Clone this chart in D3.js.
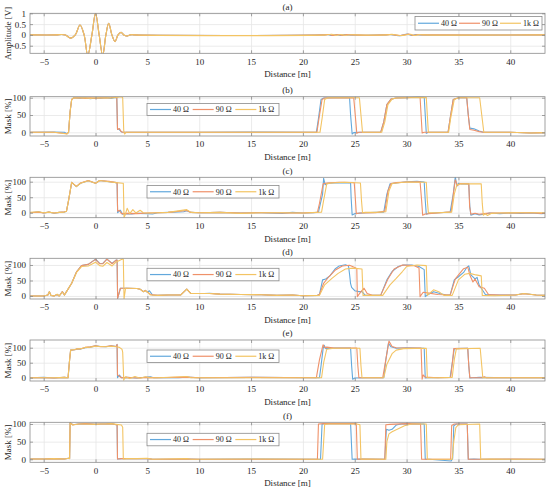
<!DOCTYPE html>
<html><head><meta charset="utf-8">
<script src="https://cdn.jsdelivr.net/npm/d3@7"></script>
<style>body{margin:0;background:#fff}</style>
</head><body><svg id="c" width="550" height="490"></svg>
<script>
// ---------- data ----------
const xTicks=[-5,0,5,10,15,20,25,30,35,40];
const seriesNames=["40 Ω","90 Ω","1k Ω"];
const panelLabels=["(a)","(b)","(c)","(d)","(e)","(f)"];
const yTitles=["Amplitude [V]","Mask [%]","Mask [%]","Mask [%]","Mask [%]","Mask [%]"];
const ampTicks=[-0.5,0,0.5,1];
const maskTicks=[0,50,100];

// (a) incident pulse (same for every load) and reflections
const aPulse=[[-6.3,0],[-3.8,0],[-3.3,0.02],[-2.9,0],[-2.4,-0.15],[-1.95,0],[-1.5,0.46],[-1.1,0],[-0.75,-0.95],[-0.35,0],[0,1],[0.35,0],[0.69,-0.95],[1.0,0],[1.27,0.54],[1.58,0],[1.88,-0.31],[2.17,0],[2.46,0.12],[2.73,0],[3.0,-0.05],[3.3,0],[3.5,0.015],[3.8,0]];
const a40Echo=[[21.9,0],[22.4,0.02],[22.8,-0.03],[23.2,0.02],[23.6,-0.02],[24.0,0.015],[24.4,0],[27.8,0],[28.4,0.02],[28.9,-0.01],[29.3,-0.04],[29.7,0.01],[30.1,0.04],[30.5,-0.02],[30.9,0.015],[31.4,0],[43.4,0]];
const a90Echo=[[22.0,0],[22.5,0.02],[22.9,-0.03],[23.3,0.02],[23.8,-0.02],[24.2,0.015],[24.7,0],[27.9,0],[28.5,0.02],[29.0,-0.01],[29.4,-0.03],[29.8,0.01],[30.2,0.035],[30.6,-0.02],[31.0,0.01],[31.5,0],[43.4,0]];
const a1kEcho=[[22.2,0],[22.8,0.03],[23.2,-0.02],[23.6,0.02],[24.1,-0.015],[24.6,0.01],[25.0,0],[28.0,0],[28.6,0.025],[29.1,-0.01],[29.6,-0.03],[30.0,0.01],[30.4,0.03],[30.8,-0.03],[31.2,0.015],[31.7,0],[43.4,0]];

// (b)
const b40=[[-6.3,0],[-4,0.5],[-3,0],[-2.75,-4],[-2.6,0],[-2.45,60],[-2.3,95],[-2.1,100],[-1.5,98],[-1,100],[-0.5,97],[0,99],[0.5,98],[1,100],[1.5,98],[1.9,101],[2.05,100],[2.12,10],[2.3,8],[2.5,1],[3,0],[6,0],[10,0],[15,0.5],[21.3,0],[21.5,40],[21.75,95],[22,99],[23,100],[24.5,100],[24.6,50],[24.75,-5],[24.9,-1],[25.5,0],[27.5,0],[27.8,30],[28.1,80],[28.5,96],[29,99],[30,100],[31,103],[31.7,102],[31.8,50],[31.9,-3],[32.1,0],[34,0],[34.2,40],[34.5,95],[35,100],[35.8,100],[35.95,50],[36.1,12],[36.5,10],[37,4],[37.4,0],[40,0],[42,-2],[43.4,-1]];
const b90=[[-6.3,0],[-4,0],[-2.75,-4],[-2.6,0],[-2.45,60],[-2.3,95],[-2.1,99],[-1.5,100],[-1,98],[-0.5,100],[0,98],[0.5,100],[1,99],[1.5,100],[1.9,102],[2.05,100],[2.12,8],[2.3,11],[2.45,3],[2.6,0],[3,0],[21.35,0],[21.55,40],[21.85,95],[22.1,99],[24.9,100],[25.05,50],[25.2,-3],[25.4,0],[27.5,0],[27.8,30],[28.1,80],[28.5,96],[29,99],[30,100],[31.3,102],[31.4,50],[31.5,-2],[31.7,0],[34,0],[34.2,40],[34.5,95],[35,100],[35.8,100],[35.95,50],[36.1,8],[36.5,6],[37,2],[37.4,0],[40,0],[42,-2],[43.4,-1]];
const b1k=[[-6.3,0],[-4,0],[-2.75,-5],[-2.6,0],[-2.45,60],[-2.3,95],[-2.1,100],[-1.5,99],[-1,100],[-0.5,98],[0,100],[0.5,99],[1,100],[1.5,99],[2,101],[2.5,103],[2.62,100],[2.72,5],[2.8,-5],[2.95,0],[5,0],[21.65,0],[21.85,40],[22.1,95],[22.4,100],[25.45,100],[25.6,50],[25.75,0],[27.6,0],[27.9,30],[28.2,80],[28.6,96],[29,99],[30,100],[31.9,101],[32.0,50],[32.1,0],[34.05,0],[34.25,40],[34.6,95],[35,100],[37.05,100],[37.25,50],[37.45,0],[40,0],[42,-2],[43.4,-1]];

// (c)
const c40=[[-6.3,0],[-5.5,3],[-5,-1],[-4.5,2],[-4,-2],[-3.5,1],[-3,2],[-2.8,5],[-2.6,40],[-2.3,98],[-1.85,84],[-1.45,95],[-0.7,103],[0,95],[0.4,104],[1.3,100],[2.0,97],[2.08,97],[2.13,0],[2.4,8],[2.6,-5],[3,-3],[3.5,-4],[4,-2],[5,-3],[5.5,-4],[6,0],[7,1],[8.5,3],[8.8,6],[9.2,1],[10,0],[12,1],[14,-1],[16,0],[18,-2],[19,1],[20,-1],[21,0],[21.5,2],[21.9,60],[22.0,111],[22.15,90],[22.4,95],[23.5,97],[24.6,96],[24.65,50],[24.75,-7],[25,-3],[26,0],[27,1],[27.8,2],[28.1,60],[28.4,93],[29,96],[30,100],[31,101],[31.7,99],[31.8,40],[31.9,-5],[32.2,-2],[33,0],[34.2,2],[34.5,60],[34.7,116],[34.85,85],[35.0,95],[35.3,93],[36.0,93],[36.1,20],[36.2,-8],[36.6,-3],[37,-7],[37.5,-5],[38,-1],[39,-3],[40,-1],[41,-2],[42,-1],[43,-3],[43.4,-2]];
const c90=[[-6.3,0],[-5.5,2],[-5,-1],[-4.5,2],[-4,-1],[-3.5,1],[-3,3],[-2.8,5],[-2.6,40],[-2.3,98],[-1.85,85],[-1.45,96],[-0.7,104],[0,95],[0.4,104],[1.3,101],[2.0,97],[2.08,97],[2.13,5],[2.3,8],[2.5,-3],[3,-2],[4,-3],[5,-1],[6,0],[7,1],[8.8,7],[9.2,1],[10,0],[12,1],[14,-1],[16,0],[18,-1],[20,-1],[21.4,1],[21.6,30],[21.95,93],[22.3,96],[23.5,98],[24.95,97],[25.05,50],[25.15,-3],[25.5,-1],[27,0],[27.9,5],[28.2,70],[28.5,94],[29,97],[30,99],[31.3,100],[31.45,40],[31.55,-8],[31.8,-4],[33,-1],[34.3,3],[34.55,70],[34.7,106],[34.9,88],[35.2,94],[36.0,93],[36.08,20],[36.2,-5],[36.6,-2],[37,-5],[37.5,-3],[38,-1],[40,-1],[42,0],[43,-2],[43.4,-2]];
const c1k=[[-6.3,1],[-5.5,3],[-5,0],[-4.5,2],[-4,-1],[-3.5,1],[-3,2],[-2.8,5],[-2.6,40],[-2.3,98],[-1.85,84],[-1.45,95],[-0.7,103],[0,95],[0.4,104],[1.3,100],[2.0,97],[2.6,95],[2.68,95],[2.75,-15],[2.85,-8],[3.05,14],[3.3,-3],[3.6,10],[3.9,-1],[4.3,8],[4.6,0],[5,-1],[6,0],[7,1],[8.8,10],[9.2,1],[10,0],[12,1],[14,-2],[16,0],[18,0],[20,-1],[21.8,2],[22.0,40],[22.3,93],[22.7,96],[24,98],[25.55,96],[25.65,40],[25.75,0],[26,1],[27,1],[28.0,3],[28.3,70],[28.6,94],[30,99],[31.9,98],[32.0,40],[32.1,0],[33,0],[34.35,2],[34.6,60],[34.85,90],[35.2,93],[37.2,93],[37.3,30],[37.4,-8],[37.6,-3],[37.8,-9],[38.2,-2],[39,-1],[41,0],[43.4,0]];

// (d)
const d40=[[-6.3,0],[-5,0],[-4.6,3],[-4.45,14],[-4.3,2],[-4,0],[-3.7,5],[-3.5,0],[-3.2,14],[-3.0,3],[-2.8,14],[-2.3,41],[-1.83,78],[-1.35,98],[-0.7,102],[0,119],[0.4,105],[0.7,105],[1.1,119],[1.6,105],[2.0,116],[2.08,116],[2.13,-8],[2.4,25],[3.0,25],[4.0,24],[4.3,22],[4.6,14],[4.8,18],[5.0,12],[5.2,17],[5.5,3],[6,2],[7,3],[8.2,3],[8.8,22],[9.2,8],[9.6,8],[10.5,8],[11,9],[12,6],[14,5],[16,4],[17.5,2],[19,3],[20,1],[21.4,2],[21.6,5],[21.9,52],[22.2,55],[22.6,65],[23.1,87],[23.5,97],[24.1,101],[24.4,97],[24.5,70],[24.6,40],[24.7,28],[25.0,17],[25.4,14],[25.7,14],[26.0,3],[27.5,2],[28.1,52],[28.6,79],[29.2,95],[29.7,100],[30.5,100],[31.2,95],[31.7,85],[31.8,-2],[32.0,3],[32.6,14],[33.2,8],[33.8,3],[34.2,3],[34.6,52],[35.0,62],[35.5,76],[35.8,92],[36.0,97],[36.2,68],[36.6,55],[36.8,60],[37.0,35],[37.3,20],[37.6,5],[38.5,3],[40.5,3],[41.3,8],[42.5,3],[43.4,2]];
const d90=[[-6.3,0],[-5,0],[-4.6,3],[-4.45,14],[-4.3,2],[-4,0],[-3.7,5],[-3.5,0],[-3.2,14],[-3.0,3],[-2.8,14],[-2.3,41],[-1.83,78],[-1.35,98],[-0.7,102],[0,118],[0.4,104],[0.7,104],[1.1,119],[1.6,104],[2.0,116],[2.08,116],[2.13,-8],[2.4,25],[3.0,25],[4.0,24],[4.3,22],[4.6,14],[4.8,18],[5.0,13],[5.3,5],[6,2],[7,3],[8.2,3],[8.8,22],[9.2,8],[10,8],[11,8],[12,6],[14,5],[16,4],[17.5,2],[19,3],[20,1],[21.4,2],[21.6,5],[22.0,41],[22.5,62],[23.1,83],[23.8,97],[24.5,99],[25.0,92],[25.2,88],[25.25,-2],[25.6,14],[25.9,25],[26.2,8],[26.7,2],[27.5,2],[28.2,55],[28.8,87],[29.6,100],[30.7,98],[31.2,90],[31.3,-2],[31.4,3],[31.6,12],[32.0,10],[33,5],[34.2,3],[34.7,55],[35.5,88],[35.9,93],[36.1,68],[36.4,45],[36.6,55],[37.0,30],[37.5,25],[37.9,5],[39,3],[40.5,3],[41.3,7],[42.5,3],[43.4,2]];
const d1k=[[-6.3,0],[-5,0],[-4.6,3],[-4.45,14],[-4.3,2],[-4,0],[-3.7,6],[-3.5,0],[-3.2,13],[-3.0,3],[-2.8,14],[-2.3,41],[-1.83,76],[-1.35,95],[-0.7,97],[0,109],[0.4,98],[0.7,96],[1.1,108],[1.6,97],[2.0,110],[2.6,119],[2.68,119],[2.75,-9],[2.9,25],[3.2,25],[4.0,24],[4.3,22],[4.6,14],[4.8,17],[5.0,13],[5.3,3],[6,2],[7,3],[8.2,3],[8.8,22],[9.2,8],[10,8],[11,8],[12,6],[14,5],[16,4],[17.5,2],[19,3],[20,1],[21.6,2],[22.1,36],[22.8,57],[23.4,73],[24.1,87],[24.8,90],[25.7,87],[25.8,2],[26.5,2],[27.7,2],[28.4,36],[29.0,57],[29.6,79],[30.0,95],[31.0,100],[31.9,98],[32.0,2],[32.6,20],[33.1,14],[33.6,2],[34.4,2],[35.0,52],[35.6,70],[36.1,73],[36.7,68],[37.2,65],[37.3,2],[38.5,1],[40.5,3],[41.3,8],[42.5,3],[43.4,2]];

// (e)
const e40=[[-6.3,0],[-5,1],[-4,-1],[-3,1],[-2.65,0],[-2.5,60],[-2.4,92],[-2.0,93],[-1.8,96],[-1.5,95],[-1,100],[-0.5,102],[0,106],[0.5,104],[1,103],[1.5,106],[2.0,104],[2.08,111],[2.12,0],[2.3,9],[2.5,0],[3,1],[4,-1],[5,2],[5.3,3],[5.6,0],[8,0],[8.8,2],[10,0],[15,1],[21.6,0],[21.75,40],[21.95,97],[22.05,108],[22.2,97],[23,99],[24.6,99],[24.7,40],[24.8,-5],[25,-1],[26,0],[27.8,0],[28.0,60],[28.25,115],[28.5,103],[29,98],[30,100],[31.7,98],[31.8,-1],[32,0],[34.2,1],[34.45,60],[34.6,97],[35.9,98],[36.0,40],[36.1,-1],[36.4,0],[37,1],[40,0],[43.4,0]];
const e90=[[-6.3,0],[-5,0],[-4,-1],[-3,1],[-2.65,0],[-2.5,60],[-2.4,92],[-2.0,93],[-1.8,96],[-1.5,96],[-1,101],[-0.5,103],[0,106],[0.5,103],[1,104],[1.5,106],[2.0,104],[2.08,111],[2.12,9],[2.3,5],[2.5,0],[3,1],[4,-1],[5,1],[6,0],[8.8,2],[10,0],[15,1],[21.3,0],[21.6,60],[21.95,110],[22.1,100],[22.3,102],[23,99],[25.2,99],[25.3,40],[25.4,0],[26,0],[27.7,0],[28.0,60],[28.3,122],[28.6,104],[29,100],[31.4,99],[31.5,-5],[31.6,9],[31.8,2],[33,0],[34.25,1],[34.45,60],[34.55,97],[35.9,98],[36.0,40],[36.1,0],[37.3,0],[37.5,3],[37.7,0],[40,0],[43.4,0]];
const e1k=[[-6.3,0],[-5,0],[-4,0],[-3,1],[-2.65,0],[-2.5,60],[-2.4,92],[-2.0,94],[-1.8,96],[-1.5,96],[-1,101],[-0.5,102],[0,105],[0.5,104],[1,103],[1.5,105],[2.0,103],[2.3,101],[2.55,95],[2.62,85],[2.72,-8],[2.9,3],[3.3,-3],[3.8,4],[4.3,-2],[4.8,3],[5.2,0],[6,0],[8.8,4],[9.2,0],[15,0],[21.8,0],[22.0,50],[22.3,95],[23,98],[25.5,98],[25.6,40],[25.7,0],[27.8,0],[28.1,45],[28.6,80],[29.0,92],[29.7,97],[31.9,98],[32.0,0],[33,0],[34.4,1],[34.6,60],[34.8,96],[37.1,98],[37.25,40],[37.35,0],[38,0],[40,0],[43.4,0]];

// (f)
const f40=[[-6.3,1],[-5,1],[-4,2],[-3,1],[-2.6,3],[-2.5,2],[-2.45,104],[-2.2,98],[-1.6,100],[-1,101],[0,99],[0.5,100],[1,100],[1.5,101],[2.0,98],[2.08,98],[2.12,1],[2.5,2],[3,2],[4,2],[5,2],[5.5,0],[8,0],[8.8,1],[10,0],[15,1],[21.7,0],[21.85,100],[22.2,101],[24.6,101],[24.75,0],[25,1],[27.9,0],[28.05,85],[28.3,82],[28.6,85],[29.0,97],[29.5,100],[31.7,100],[31.8,0],[32.2,0],[34.3,-5],[34.45,3],[34.55,95],[34.8,100],[35.85,100],[35.95,0],[36.5,1],[37,0],[40,0],[43.4,0]];
const f90=[[-6.3,1],[-5,1],[-4,2],[-3,1],[-2.6,3],[-2.5,2],[-2.45,104],[-2.2,98],[-1.6,100],[-1,101],[0,99],[0.5,100],[1,100],[1.5,101],[2.0,98],[2.08,98],[2.12,1],[2.5,2],[3,2],[5,2],[5.5,0],[8.8,1],[10,0],[21.4,0],[21.5,100],[22,101],[25.15,101],[25.25,0],[25.5,1],[27.9,0],[28.0,98],[28.4,99],[30,101],[31.35,100],[31.45,0],[32,0],[34.25,0],[34.35,96],[34.6,100],[35.85,100],[35.95,0],[37,0],[40,1],[43.4,0]];
const f1k=[[-6.3,1],[-5,1],[-4,2],[-3,1],[-2.6,3],[-2.5,2],[-2.45,104],[-2.2,97],[-1.6,100],[-1,100],[0,99],[0.5,100],[1,100],[1.5,101],[2.0,99],[2.5,97],[2.62,91],[2.68,1],[3,2],[4,2],[5,3],[5.5,0],[8.8,2],[9.2,0],[15,1],[21.9,0],[22.1,99],[22.5,100],[25.2,100],[25.5,98],[25.6,0],[26,1],[28.0,0],[28.1,50],[28.3,72],[28.6,78],[29.1,85],[29.8,95],[30.5,100],[31.9,100],[32.0,0],[33,0],[34.4,0],[34.55,50],[34.75,90],[35.0,98],[37.05,100],[37.15,0],[38,1],[40,0],[43.4,0]];

// ---------- drawing ----------
const colors=["#62a8dc","#ef9169","#f3c463"];
const seriesData=[
  [aPulse.concat(a40Echo),aPulse.concat(a90Echo),aPulse.concat(a1kEcho)],
  [b40,b90,b1k],[c40,c90,c1k],[d40,d90,d1k],[e40,e90,e1k],[f40,f90,f1k]
];
const L=30,R=545;
const panels=[
  {top:13.3,bottom:53.3,yd:[-0.85,1],ticks:ampTicks,leg:[415,16.5,127,13.5],curve:d3.curveCatmullRom},
  {top:96.7,bottom:136,yd:[-10.7,102.9],ticks:maskTicks,leg:[147,103.5,132,12],curve:d3.curveLinear},
  {top:177.3,bottom:217.7,yd:[-16.1,114.2],ticks:maskTicks,leg:[147,185.5,132,12.5],curve:d3.curveLinear},
  {top:258.3,bottom:299,yd:[-9.7,121.6],ticks:maskTicks,leg:[147,268.3,132,12.5],curve:d3.curveLinear},
  {top:340,bottom:381,yd:[-11,125.7],ticks:maskTicks,leg:[147,350,132,12.5],curve:d3.curveLinear},
  {top:422.3,bottom:462.3,yd:[-8.5,104.8],ticks:maskTicks,leg:[147,433.3,132,12.5],curve:d3.curveLinear}
];
const svg=d3.select("#c");
const FONT="'Liberation Serif','Times New Roman',serif";
const x=d3.scaleLinear().domain([-6.32,43.35]).range([L,R]);
const axisCol="#8a8a8a", gridCol="#e6e6e6", textCol="#262626";

panels.forEach((p,i)=>{
  const y=d3.scaleLinear().domain(p.yd).range([p.bottom,p.top]);
  const g=svg.append("g");
  const h=p.bottom-p.top;
  // grid
  g.append("g").attr("transform",`translate(0,${p.top})`)
    .call(d3.axisBottom(x).tickValues(xTicks).tickSize(h).tickFormat(""))
    .call(s=>{s.select(".domain").remove();s.selectAll("line").attr("stroke",gridCol).attr("stroke-width",0.8);});
  g.append("g").attr("transform",`translate(${L},0)`)
    .call(d3.axisRight(y).tickValues(p.ticks).tickSize(R-L).tickFormat(""))
    .call(s=>{s.select(".domain").remove();s.selectAll("line").attr("stroke",gridCol).attr("stroke-width",0.8);});
  // clip
  const cid="clip"+i;
  svg.append("clipPath").attr("id",cid).append("rect").attr("x",L).attr("y",p.top).attr("width",R-L).attr("height",h);
  const line=d3.line().x(d=>x(d[0])).y(d=>y(d[1])).curve(p.curve);
  seriesData[i].forEach((ser,k)=>{
    g.append("path").attr("d",line(ser)).attr("fill","none").attr("stroke",colors[k])
      .attr("stroke-width",1.1).attr("clip-path",`url(#${cid})`).attr("stroke-linejoin","round");
  });
  // axes (ticks inward)
  const xb=g.append("g").attr("transform",`translate(0,${p.bottom})`)
    .call(d3.axisBottom(x).tickValues(xTicks).tickSize(-3).tickPadding(5).tickFormat(d=>d<0?"\u2212"+Math.abs(d):d));
  const xt=g.append("g").attr("transform",`translate(0,${p.top})`)
    .call(d3.axisTop(x).tickValues(xTicks).tickSize(-3).tickFormat(""));
  const yl=g.append("g").attr("transform",`translate(${L},0)`)
    .call(d3.axisLeft(y).tickValues(p.ticks).tickSize(-3).tickPadding(4).tickFormat(d=>d<0?"\u2212"+Math.abs(d):d));
  const yr=g.append("g").attr("transform",`translate(${R},0)`)
    .call(d3.axisRight(y).tickValues(p.ticks).tickSize(-3).tickFormat(""));
  [xb,xt,yl,yr].forEach(a=>{
    a.select(".domain").remove();
    a.selectAll("line").attr("stroke",axisCol).attr("stroke-width",0.8);
    a.selectAll("text").attr("fill",textCol).attr("font-family",FONT).attr("font-size",9);
  });
  g.append("rect").attr("x",L).attr("y",p.top).attr("width",R-L).attr("height",h)
    .attr("fill","none").attr("stroke",axisCol).attr("stroke-width",0.8);
  // labels
  g.append("text").attr("x",(L+R)/2).attr("y",p.top-3.8).attr("text-anchor","middle")
    .attr("font-family",FONT).attr("font-size",9).attr("fill",textCol).text(panelLabels[i]);
  g.append("text").attr("x",(L+R)/2).attr("y",p.bottom+24).attr("text-anchor","middle")
    .attr("font-family",FONT).attr("font-size",9).attr("fill",textCol).text("Distance [m]");
  g.append("text").attr("transform",`translate(10.5,${(p.top+p.bottom)/2}) rotate(-90)`).attr("text-anchor","middle")
    .attr("font-family",FONT).attr("font-size",9).attr("fill",textCol).text(yTitles[i]);
  // legend
  const [lx,ly,lw,lh]=p.leg;
  const lg=g.append("g");
  lg.append("rect").attr("x",lx).attr("y",ly).attr("width",lw).attr("height",lh)
    .attr("fill","#fff").attr("stroke",axisCol).attr("stroke-width",0.8);
  const step=(lw-4)/3;
  seriesNames.forEach((nm,k)=>{
    const sx=lx+3+k*step, cy=ly+lh/2;
    lg.append("line").attr("x1",sx).attr("x2",sx+21).attr("y1",cy).attr("y2",cy)
      .attr("stroke",colors[k]).attr("stroke-width",1.2);
    lg.append("text").attr("x",sx+23).attr("y",cy+2.8).attr("font-family",FONT).attr("font-size",8)
      .attr("fill",textCol).text(nm);
  });
});
</script></body></html>
